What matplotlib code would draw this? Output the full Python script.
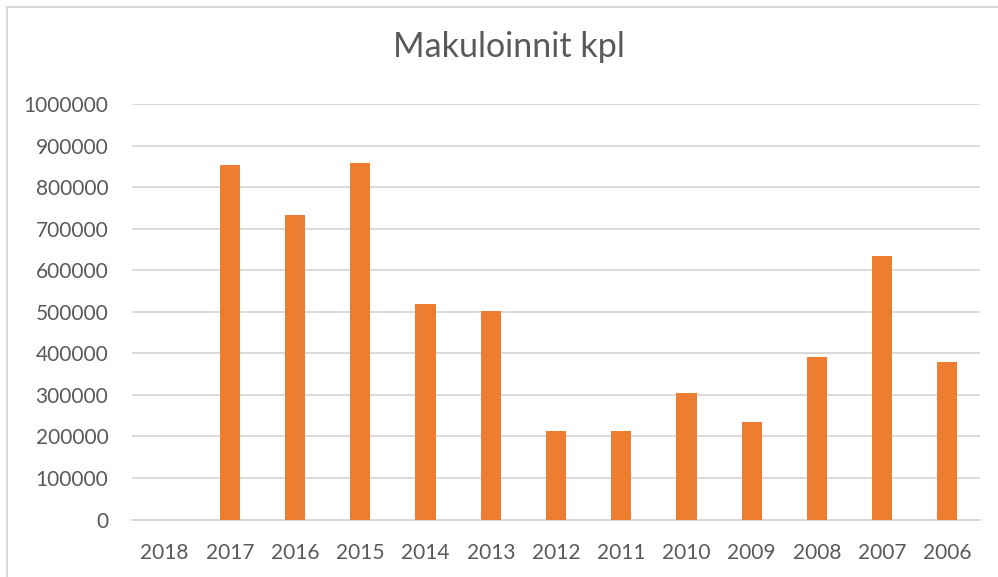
import matplotlib
matplotlib.use("Agg")
import matplotlib.pyplot as plt
from matplotlib.patches import Rectangle

years = ["2018", "2017", "2016", "2015", "2014", "2013", "2012",
         "2011", "2010", "2009", "2008", "2007", "2006"]
values = [0, 853000, 732000, 858000, 519000, 503000, 212500,
          213000, 305000, 234000, 391000, 635000, 379000]
yticks = list(range(0, 1000001, 100000))

plt.rcParams['font.family'] = ['Lato', 'DejaVu Sans']

W, H = 998, 577
fig = plt.figure(figsize=(W / 100, H / 100), dpi=100)
fig.patch.set_facecolor("white")

# chart border
fig.patches.append(Rectangle((6.5 / W, -0.1), 1.2, 1 - 6.5 / H + 0.1,
                             transform=fig.transFigure, fill=False,
                             edgecolor="#d9d9d9", linewidth=1.5))

left, right, top, bottom = 132, 980, 104, 519.5
ax = fig.add_axes([left / W, 1 - bottom / H, (right - left) / W, (bottom - top) / H])

x = list(range(len(years)))
ax.bar(x, values, width=0.31, color="#ed7d31", zorder=3)
ax.set_xlim(-0.5, len(years) - 0.5)
ax.set_ylim(0, 1000000)
ax.set_yticks(yticks)
ax.set_yticklabels([str(v) for v in yticks])
ax.set_xticks(x)
ax.set_xticklabels(years)
ax.yaxis.grid(True, color="#d9d9d9", linewidth=1.4, zorder=0)
ax.set_axisbelow(True)
for s in ["left", "right", "top"]:
    ax.spines[s].set_visible(False)
ax.spines["bottom"].set_color("#d9d9d9")
ax.spines["bottom"].set_linewidth(1.4)
ax.tick_params(axis="both", length=0, labelsize=15, colors="#595959")
ax.tick_params(axis="y", pad=17)
ax.tick_params(axis="x", pad=17)

fig.text(509 / W, 1 - 47 / H, "Makuloinnit kpl", ha="center", va="center",
         fontsize=24.5, color="#595959")

fig.savefig("out.png", dpi=100, facecolor="white")
